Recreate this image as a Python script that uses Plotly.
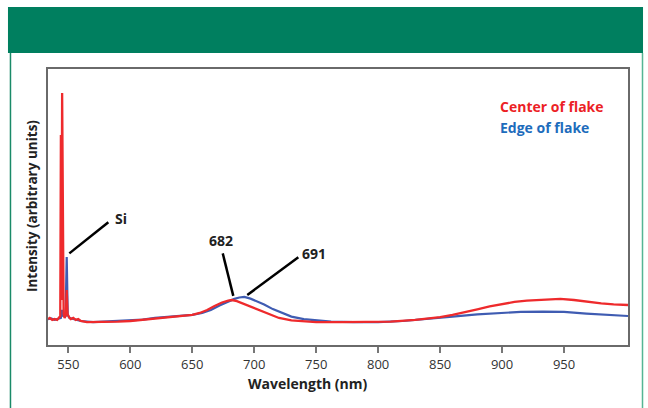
import plotly.graph_objects as go

# Photoluminescence spectra (arbitrary intensity units)
center_wl = [533.6, 535, 537, 539, 541, 542.5, 543.5, 544.0, 544.5, 545.0, 545.6, 546.2,
             547.0, 548.0, 548.7, 549.4, 550.5, 552, 554, 556, 558, 560, 565, 570, 580,
             590, 600, 610, 620, 630, 640, 650, 656, 662, 668, 674, 679, 682, 686, 690,
             696, 704, 712, 720, 730, 740, 750, 770, 790, 810, 830, 850, 860, 870, 880,
             890, 900, 910, 920, 933, 947, 958, 968, 980, 990, 1001.6]
center_int = [0.094, 0.098, 0.091, 0.094, 0.091, 0.098, 0.105, 0.761, 0.163, 0.913, 0.163,
              0.112, 0.098, 0.109, 0.199, 0.112, 0.101, 0.094, 0.098, 0.091, 0.094, 0.087,
              0.083, 0.083, 0.083, 0.085, 0.087, 0.091, 0.096, 0.100, 0.103, 0.109, 0.116,
              0.127, 0.141, 0.154, 0.161, 0.163, 0.159, 0.152, 0.141, 0.127, 0.111, 0.098,
              0.089, 0.085, 0.083, 0.083, 0.083, 0.085, 0.091, 0.101, 0.109, 0.118, 0.129,
              0.140, 0.149, 0.156, 0.161, 0.165, 0.167, 0.163, 0.157, 0.151, 0.147, 0.145]

edge_wl = [533.6, 536, 539, 542, 544, 545.0, 546, 547.8, 548.7, 549.5, 551, 554, 557, 560,
           570, 580, 590, 600, 610, 620, 630, 640, 650, 658, 665, 672, 678, 684, 688, 692,
           697, 702, 708, 715, 722, 730, 740, 750, 762, 780, 800, 820, 840, 860, 880, 898,
           915, 933, 950, 968, 985, 1001.6]
edge_int = [0.094, 0.096, 0.091, 0.094, 0.098, 0.127, 0.105, 0.105, 0.319, 0.109, 0.098,
            0.094, 0.091, 0.087, 0.083, 0.085, 0.087, 0.089, 0.092, 0.098, 0.101, 0.105,
            0.109, 0.116, 0.127, 0.143, 0.156, 0.167, 0.172, 0.174, 0.168, 0.159, 0.147,
            0.130, 0.116, 0.103, 0.094, 0.089, 0.085, 0.083, 0.083, 0.087, 0.094, 0.103,
            0.111, 0.116, 0.120, 0.121, 0.120, 0.114, 0.109, 0.105]

tick_vals = [550, 600, 650, 700, 750, 800, 850, 900, 950]
series_names = ["Center of flake", "Edge of flake"]

RED = "#ee2a2c"
BLUE = "#3f5cb2"
FONT = "Open Sans"

fig = go.Figure()
fig.add_trace(go.Scatter(x=edge_wl, y=edge_int, mode="lines", name=series_names[1],
                         line=dict(color=BLUE, width=2.2)))
fig.add_trace(go.Scatter(x=center_wl, y=center_int, mode="lines", name=series_names[0],
                         line=dict(color=RED, width=2.3)))

# Leader lines for the labelled peaks
leaders = [
    ("Si", (550.8, 0.332), (582.3, 0.445), (592.3, 0.458)),
    ("682", (683.1, 0.178), (674.6, 0.332), (673.0, 0.380)),
    ("691", (694.4, 0.181), (735.6, 0.318), (748.3, 0.332)),
]
for label, (x0, y0), (x1, y1), (tx, ty) in leaders:
    fig.add_shape(type="line", xref="x", yref="y", x0=x0, y0=y0, x1=x1, y1=y1,
                  line=dict(color="black", width=2.5))
    fig.add_annotation(x=tx, y=ty, xref="x", yref="y", text=f"<b>{label}</b>",
                       xanchor="center", yanchor="middle",
                       showarrow=False, font=dict(family=FONT, size=14, color="#222"))

# Series labels
for name, ypos, col in [(series_names[0], 0.8634, "#ec1f26"),
                        (series_names[1], 0.7873, "#1d6cbc")]:
    fig.add_annotation(x=0.7753, y=ypos, xref="paper", yref="paper",
                       xanchor="left", yanchor="middle",
                       text=f"<b>{name}</b>", showarrow=False,
                       font=dict(family=FONT, size=14, color=col))

# Axis titles
fig.add_annotation(x=0.4466, y=-0.1413, xref="paper", yref="paper",
                   xanchor="center", yanchor="middle",
                   text="<b>Wavelength (nm)</b>", showarrow=False,
                   font=dict(family=FONT, size=14, color="#222"))
fig.add_annotation(x=-0.0276, y=0.5036, xref="paper", yref="paper", textangle=-90,
                   xanchor="center", yanchor="middle",
                   text="<b>Intensity (arbitrary units)</b>", showarrow=False,
                   font=dict(family=FONT, size=13.5, color="#222"))

# Green header band and side rules
fig.add_shape(type="rect", xref="paper", yref="paper", x0=-0.069, x1=1.0259,
              y0=1.058, y1=1.2246, fillcolor="#007f5f", line=dict(width=0), layer="below")
fig.add_shape(type="line", xref="paper", yref="paper", x0=-0.0647, x1=-0.0647,
              y0=1.058, y1=-0.3, line=dict(color="#1a8a68", width=1.5))
fig.add_shape(type="line", xref="paper", yref="paper", x0=1.025, x1=1.025,
              y0=1.058, y1=-0.3, line=dict(color="#55b594", width=1.5))

fig.update_layout(
    width=648, height=408,
    margin=dict(l=48, r=20, t=69, b=63),
    paper_bgcolor="white", plot_bgcolor="white",
    showlegend=False,
    font=dict(family=FONT, color="#333"),
    xaxis=dict(range=[533.6, 1001.6], tickvals=tick_vals, ticks="outside", ticklen=6,
               tickwidth=1.5, tickcolor="#777", showgrid=False, zeroline=False,
               showline=True, mirror=True, linecolor="#6a6a6a", linewidth=2,
               tickfont=dict(family=FONT, size=13, color="#333")),
    yaxis=dict(range=[0, 1], showticklabels=False, ticks="", showgrid=False,
               zeroline=False, showline=True, mirror=True, linecolor="#6a6a6a",
               linewidth=2),
)

fig.write_html("out.html")
